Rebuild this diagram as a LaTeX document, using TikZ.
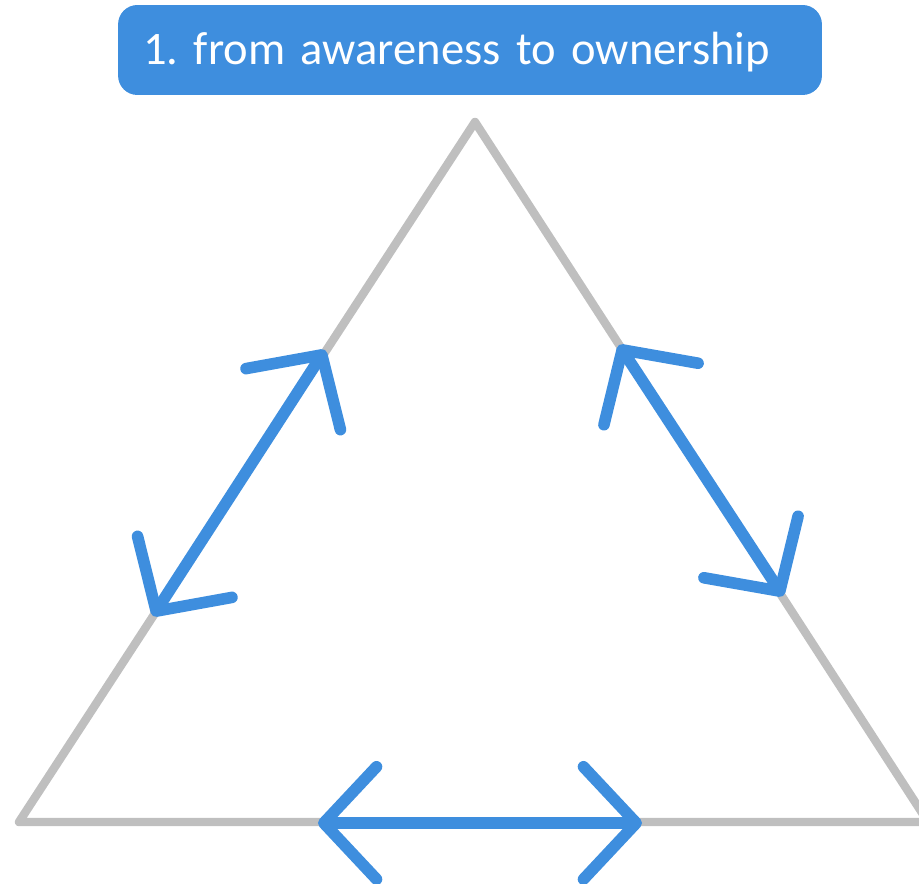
\documentclass[tikz,border=0pt]{standalone}
\usepackage{fontspec}
\setmainfont{Carlito}
\usetikzlibrary{arrows.meta}
\definecolor{stepblue}{HTML}{3E8EDE}
\definecolor{sidegray}{HTML}{BFBFBF}
\frenchspacing

\begin{document}
\begin{tikzpicture}[x=0.02cm, y=-0.02cm,
    side/.style={draw=sidegray, line width=4.8pt, line join=round},
    barb/.tip={Straight Barb[length=30pt, width=64pt, round]},
    flow/.style={draw=stepblue, line width=6.6pt, line cap=round, barb-barb},
    title/.style={fill=stepblue, text=white, rounded corners=11pt, font=\fontsize{26.5pt}{32pt}\selectfont,
        text width=13.08cm, align=left, inner xsep=0.5cm, inner ysep=0pt,
        minimum height=1.8cm, text height=22pt, text depth=5pt} ]
    \useasboundingbox (0,0) rectangle (919,884);
    \node[title] (head) at (470,50) {1. from awareness to ownership};
    \coordinate (apex) at (475,122);
    \coordinate (left) at (19,822);
    \coordinate (right) at (928,822);
    \draw[side] (left)--(apex)--(right)--cycle;
    \coordinate (l1) at (153,616);
    \coordinate (l2) at (325,350);
    \coordinate (r1) at (619,345);
    \coordinate (r2) at (783,596);
    \coordinate (b1) at (318,823);
    \coordinate (b2) at (642,823);
    \draw[flow] (l1)--(l2);
    \draw[flow] (r1)--(r2);
    \draw[flow] (b1)--(b2);
\end{tikzpicture}
\end{document}
